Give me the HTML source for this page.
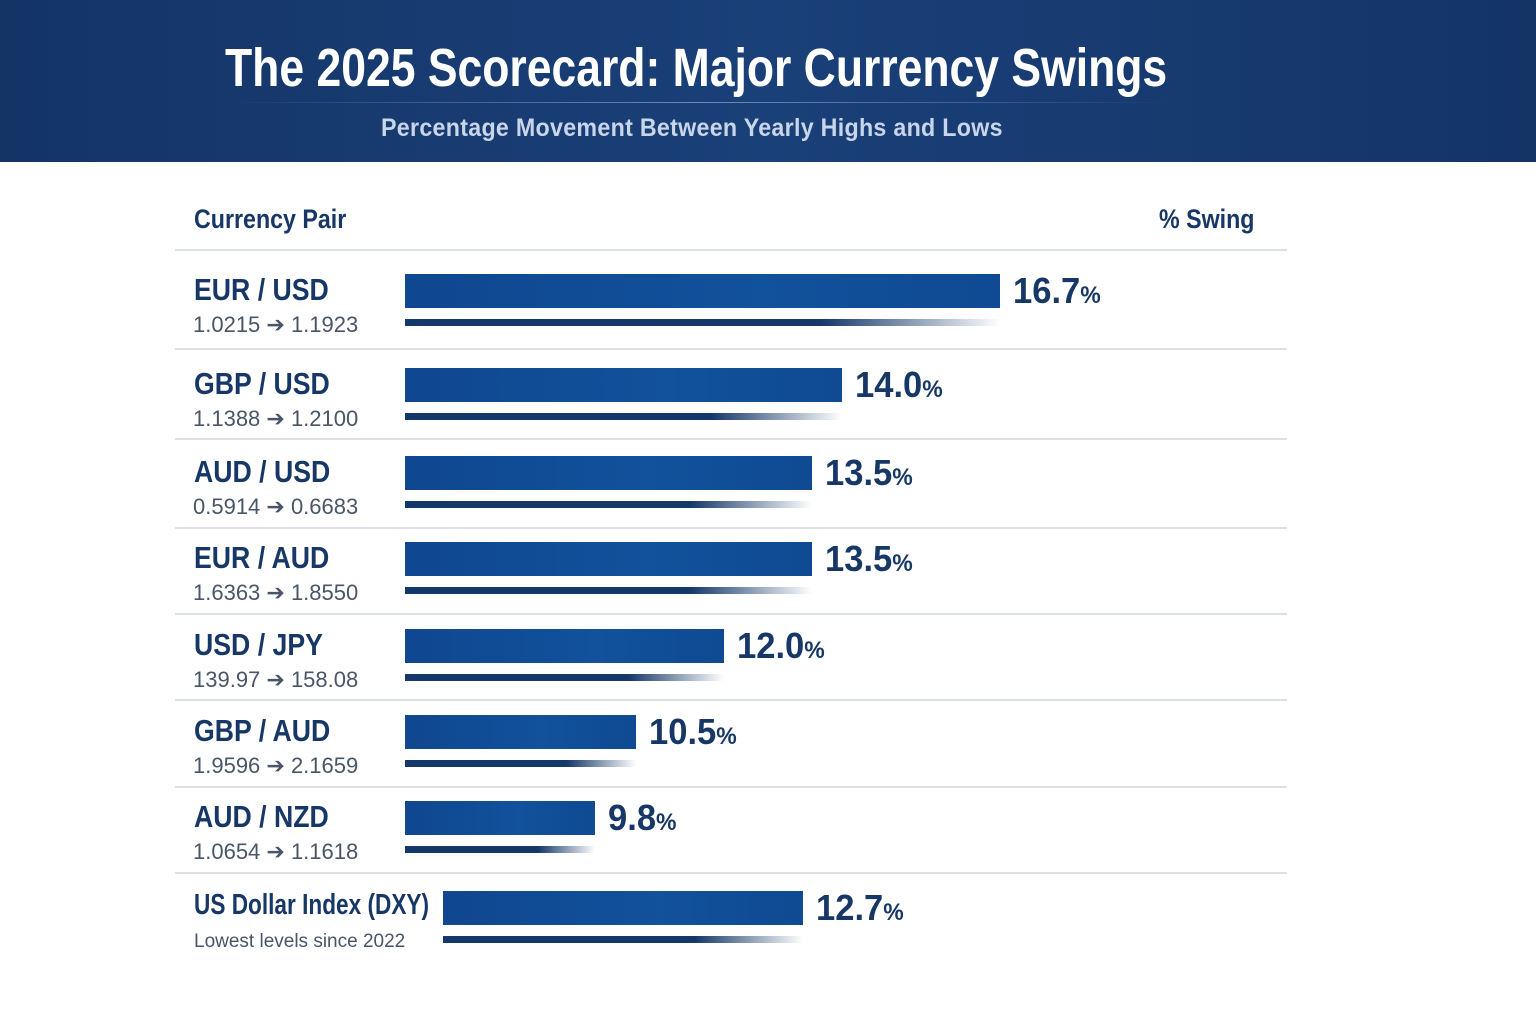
<!DOCTYPE html>
<html><head><meta charset="utf-8"><style>
body{margin:0;width:1536px;height:1024px;background:#fff;font-family:"Liberation Sans",sans-serif;overflow:hidden;position:relative}
#hdr{position:absolute;left:0;top:0;width:1536px;height:162px;background:linear-gradient(90deg,#143466,#1a4079 50%,#143466)}
.sq{position:absolute;white-space:nowrap;transform-origin:left top}
#title{left:225px;top:37px;color:#fff;font-weight:bold;font-size:54px;transform:scaleX(0.824)}
#rule{position:absolute;left:225px;top:102px;width:945px;height:1px;background:linear-gradient(90deg,transparent,#6f8bb5,transparent)}
#sub{left:381px;top:114px;color:#c9d5e8;font-size:25px;font-weight:bold;transform:scaleX(0.93);letter-spacing:0.3px}
.h{top:204px;color:#173866;font-size:27px;font-weight:bold;transform:scaleX(0.86)}
.sep{position:absolute;left:175px;width:1112px;height:2px;background:#dde1e7}
.name{left:194px;color:#173866;font-weight:bold;font-size:31px;transform:scaleX(0.86)}
.det{left:193px;color:#4a5568;font-size:22px}
.bar{position:absolute;height:34px;background:linear-gradient(90deg,#0f4790,#12519c 60%,#0f4a93)}
.ul{position:absolute;height:7px;background:linear-gradient(90deg,#15386a,#15386a 70%,rgba(21,56,106,0))}
.val{color:#173866;font-weight:bold;font-size:36px;transform:scaleX(0.96)}
.val span{font-size:24px}
</style></head><body>
<div id="hdr"></div>
<div id="title" class="sq">The 2025 Scorecard: Major Currency Swings</div>
<div id="rule"></div>
<div id="sub" class="sq">Percentage Movement Between Yearly Highs and Lows</div>
<div class="h sq" style="left:194px">Currency Pair</div>
<div class="h sq" style="left:1159px">% Swing</div>
<div id="chart"></div>
<script>
const pairs=["EUR / USD","GBP / USD","AUD / USD","EUR / AUD","USD / JPY","GBP / AUD","AUD / NZD","US Dollar Index (DXY)"];
const ranges=["1.0215 ➔ 1.1923","1.1388 ➔ 1.2100","0.5914 ➔ 0.6683","1.6363 ➔ 1.8550","139.97 ➔ 158.08","1.9596 ➔ 2.1659","1.0654 ➔ 1.1618","Lowest levels since 2022"];
const swings=[16.7,14.0,13.5,13.5,12.0,10.5,9.8,12.7];
const rowTops=[274,368,456,542,629,715,801,891];
const seps=[249,348,438,527,613,699,786,872];
function xLen(v){return (v-6.55)*58.6;}
const root=document.body;
seps.forEach((y,i)=>{const d=document.createElement('div');d.className='sep';d.style.top=y+'px';


root.appendChild(d);});
pairs.forEach((p,i)=>{
 const t=rowTops[i];const last=i===pairs.length-1;const x0=last?443:405;const w=xLen(swings[i]);
 const n=document.createElement('div');n.className='name sq';n.style.top=(t-2)+'px';n.textContent=p;
 if(last){n.style.fontSize='29px';n.style.transform='scaleX(0.78)';}
 
 
 root.appendChild(n);
 const d=document.createElement('div');d.className='det sq';d.style.top=(t+38)+'px';d.textContent=ranges[i];
 if(last){d.style.fontSize='19px';d.style.top=(t+40)+'px';d.style.left='194px';}
 
 
 root.appendChild(d);
 const b=document.createElement('div');b.className='bar';b.style.left=x0+'px';b.style.top=t+'px';b.style.width=w+'px';
 
 
 root.appendChild(b);
 const u=document.createElement('div');u.className='ul';u.style.left=x0+'px';u.style.top=(t+45)+'px';u.style.width=w+'px';
 
 
 root.appendChild(u);
 const v=document.createElement('div');v.className='val sq';v.style.left=(x0+w+13)+'px';v.style.top=(t-4)+'px';
 v.innerHTML=swings[i].toFixed(1)+'<span>%</span>';
 
 
 root.appendChild(v);
});
</script>
</body></html>
